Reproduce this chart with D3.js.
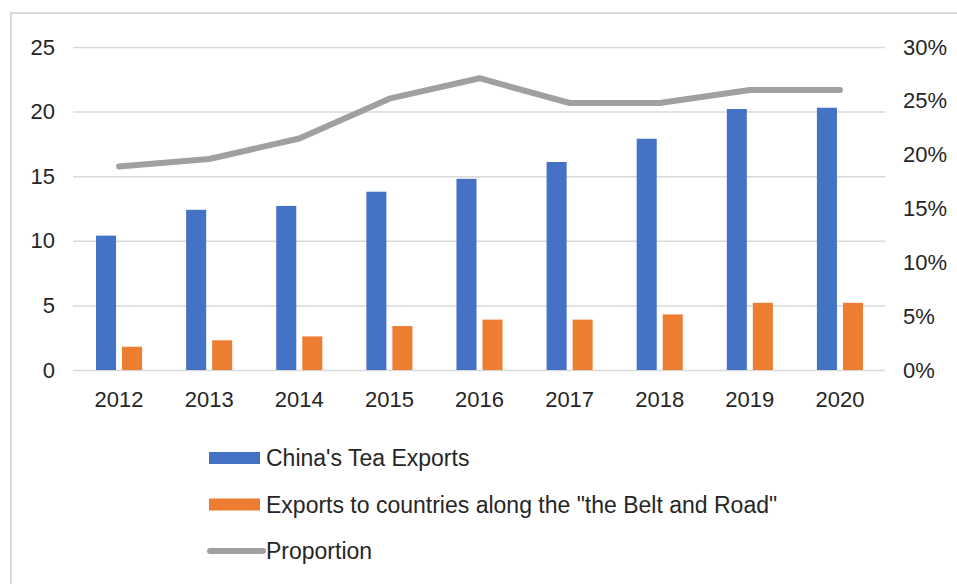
<!DOCTYPE html>
<html>
<head>
<meta charset="utf-8">
<script src="https://cdn.jsdelivr.net/npm/d3@7"></script>
<style>
  html, body { margin: 0; padding: 0; background: #fff; }
  svg { display: block; font-family: "Liberation Sans", Arial, sans-serif; }
  .tick-label-text { fill: #262626; font-size: 22px; }
  .legend-text { fill: #262626; font-size: 23px; }
</style>
</head>
<body>
<div id="chart"></div>
<script>
const years = ["2012", "2013", "2014", "2015", "2016", "2017", "2018", "2019", "2020"];
const teaExports = [10.4, 12.4, 12.7, 13.8, 14.8, 16.1, 17.9, 20.2, 20.3];
const beltRoadExports = [1.8, 2.3, 2.6, 3.4, 3.9, 3.9, 4.3, 5.2, 5.2];
const proportion = [0.189, 0.196, 0.215, 0.252, 0.271, 0.248, 0.248, 0.260, 0.260];
const leftTicks = [0, 5, 10, 15, 20, 25];
const rightTicks = [0, 0.05, 0.1, 0.15, 0.2, 0.25, 0.3];

const series = [
  { key: "tea", label: "China's Tea Exports", color: "#4472C4", values: teaExports },
  { key: "belt", label: "Exports to countries along the \"the Belt and Road\"", color: "#ED7D31", values: beltRoadExports },
];
const lineColor = "#A0A0A0";

const width = 957;
const height = 584;
const margin = { top: 47, right: 72, bottom: 214, left: 74 };

const svg = d3.select("#chart")
  .append("svg")
  .attr("width", width)
  .attr("height", height)
  .attr("viewBox", [0, 0, width, height]);

// outer frame (only left and top edges fall inside the picture)
svg.append("rect")
  .attr("x", 11).attr("y", 13)
  .attr("width", width + 20).attr("height", height + 20)
  .attr("fill", "none")
  .attr("stroke", "#d9d9d9")
  .attr("stroke-width", 2);

const x = d3.scaleBand()
  .domain(years)
  .range([margin.left, width - margin.right])
  .padding(0);

const xInner = d3.scaleBand()
  .domain(series.map((d) => d.key))
  .range([0, x.bandwidth()])
  .paddingInner(0.23)
  .paddingOuter(0.846);

const y = d3.scaleLinear()
  .domain([0, 25])
  .range([height - margin.bottom, margin.top]);

const y2 = d3.scaleLinear()
  .domain([0, 0.3])
  .range([height - margin.bottom, margin.top]);

// grid + left axis
svg.append("g")
  .attr("class", "axis axis--y")
  .attr("transform", `translate(${margin.left},0)`)
  .call(d3.axisLeft(y).tickValues(leftTicks).tickSize(0).tickPadding(19))
  .call((g) => g.select(".domain").remove())
  .call((g) => g.selectAll(".tick text").attr("class", "tick-label-text").attr("fill", null))
  .call((g) => g.selectAll(".tick line")
    .attr("x1", -1)
    .attr("x2", width - margin.left - margin.right)
    .attr("stroke", "#d9d9d9")
    .attr("stroke-width", 1.5));

// right axis
svg.append("g")
  .attr("class", "axis axis--y2")
  .attr("transform", `translate(${width - margin.right},0)`)
  .call(d3.axisRight(y2).tickValues(rightTicks).tickSize(0).tickPadding(18).tickFormat(d3.format(".0%")))
  .call((g) => g.select(".domain").remove())
  .call((g) => g.selectAll(".tick text").attr("class", "tick-label-text").attr("fill", null));

// x axis labels
svg.append("g")
  .attr("class", "axis axis--x")
  .attr("transform", `translate(0,${height - margin.bottom})`)
  .call(d3.axisBottom(x).tickSize(0).tickPadding(21))
  .call((g) => g.select(".domain").remove())
  .call((g) => g.selectAll(".tick text").attr("class", "tick-label-text").attr("fill", null));

// bars
const groups = svg.append("g")
  .attr("class", "bars")
  .selectAll("g")
  .data(years)
  .join("g")
  .attr("transform", (d) => `translate(${x(d)},0)`);

groups.selectAll("rect")
  .data((d, i) => series.map((s) => ({ key: s.key, color: s.color, value: s.values[i] })))
  .join("rect")
  .attr("x", (d) => xInner(d.key))
  .attr("y", (d) => y(d.value))
  .attr("width", xInner.bandwidth())
  .attr("height", (d) => y(0) - y(d.value))
  .attr("fill", (d) => d.color);

// proportion line
const line = d3.line()
  .x((d, i) => x(years[i]) + x.bandwidth() / 2)
  .y((d) => y2(d));

svg.append("path")
  .datum(proportion)
  .attr("fill", "none")
  .attr("stroke", lineColor)
  .attr("stroke-width", 6)
  .attr("stroke-linejoin", "round")
  .attr("stroke-linecap", "round")
  .attr("d", line);

// legend
const legendItems = [
  ...series.map((s) => ({ label: s.label, color: s.color, type: "rect" })),
  { label: "Proportion", color: lineColor, type: "line" },
];

const legend = svg.append("g")
  .attr("class", "legend")
  .attr("transform", "translate(209,458)");

const item = legend.selectAll("g")
  .data(legendItems)
  .join("g")
  .attr("transform", (d, i) => `translate(0,${i * 46.5})`);

item.filter((d) => d.type === "rect")
  .append("rect")
  .attr("x", 0).attr("y", -6)
  .attr("width", 51).attr("height", 12)
  .attr("fill", (d) => d.color);

item.filter((d) => d.type === "line")
  .append("line")
  .attr("x1", 1).attr("x2", 54)
  .attr("y1", 0).attr("y2", 0)
  .attr("stroke", (d) => d.color)
  .attr("stroke-width", 6)
  .attr("stroke-linecap", "round");

item.append("text")
  .attr("class", "legend-text")
  .attr("x", 57)
  .attr("y", 0)
  .attr("dy", "0.36em")
  .text((d) => d.label);
</script>
</body>
</html>
